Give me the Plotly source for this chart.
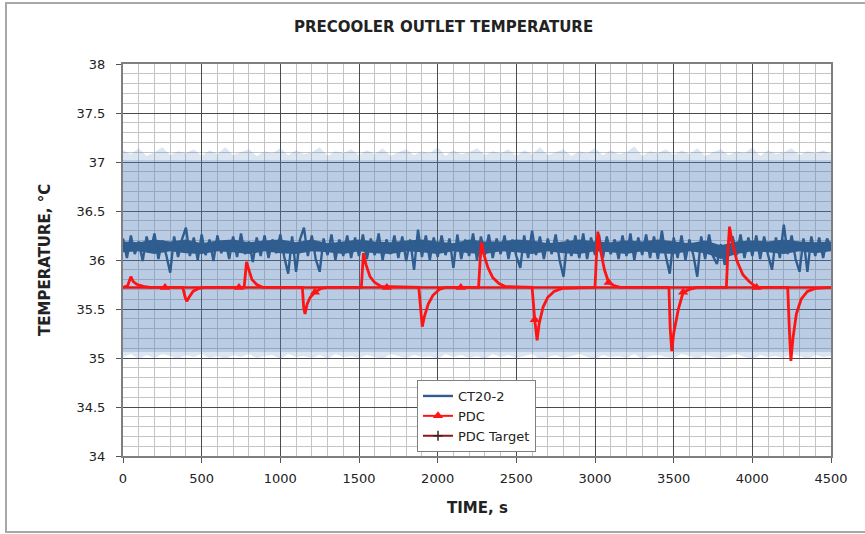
import plotly.graph_objects as go

# ---------------- data ----------------
# light-blue fast-oscillation envelope (every 50 s)
band_time = list(range(0, 4501, 50))
band_upper = [37.12,37.08,37.14,37.06,37.10,37.15,37.07,37.11,37.09,37.13,37.06,37.12,37.08,37.15,37.07,37.10,37.13,37.06,37.11,37.09,
              37.14,37.07,37.12,37.08,37.10,37.15,37.06,37.11,37.09,37.13,37.07,37.12,37.08,37.14,37.06,37.10,37.13,37.07,37.11,37.09,
              37.15,37.06,37.12,37.08,37.10,37.14,37.07,37.11,37.09,37.13,37.06,37.12,37.08,37.15,37.07,37.10,37.13,37.06,37.11,37.09,
              37.14,37.07,37.12,37.08,37.10,37.16,37.06,37.11,37.09,37.13,37.07,37.12,37.08,37.14,37.06,37.10,37.13,37.07,37.11,37.09,
              37.15,37.06,37.12,37.08,37.10,37.14,37.07,37.11,37.09,37.12,37.08]
band_lower = [35.01,35.04,34.99,35.03,35.00,35.04,35.02,34.99,35.03,35.01,35.04,35.00,35.02,34.99,35.03,35.01,35.04,35.00,35.02,35.03,
              34.99,35.04,35.01,35.02,35.00,35.03,34.99,35.04,35.01,35.02,35.00,35.03,35.01,34.99,35.04,35.02,35.00,35.03,35.01,35.02,
              34.99,35.04,35.01,35.03,35.00,35.02,34.99,35.04,35.01,35.03,35.00,35.02,35.04,34.99,35.01,35.03,35.00,35.02,35.04,35.01,
              34.99,35.03,35.01,35.02,35.00,35.04,34.99,35.02,35.03,35.01,35.00,35.04,35.02,34.99,35.03,35.01,35.00,35.02,35.04,35.01,
              34.99,35.03,35.01,35.02,35.00,35.04,35.02,34.99,35.03,35.01,35.02]
band_core_low = 35.06
band_core_high = 37.02

# CT20-2 dense core (every 100 s)
ct_core_time = list(range(0, 4501, 100))
ct_core_hi = [36.19,36.18,36.21,36.19,36.21,36.17,36.20,36.21,36.18,36.20, 36.21,36.18,36.21,36.17,36.19,36.21,36.19,36.18,36.20,36.21,
              36.19,36.17,36.21,36.19,36.19,36.21,36.20,36.17,36.19,36.21, 36.19,36.18,36.20,36.19,36.21,36.19,36.17,36.20,36.15,36.19,
              36.20,36.19,36.21,36.19,36.18,36.19]
ct_core_lo = [36.08,36.09,36.06,36.09,36.07,36.06,36.09,36.08,36.06,36.09, 36.07,36.06,36.09,36.08,36.06,36.09,36.07,36.06,36.09,36.08,
              36.06,36.09,36.07,36.06,36.09,36.08,36.06,36.09,36.07,36.06, 36.09,36.08,36.06,36.09,36.07,36.06,36.09,36.07,36.01,36.06,
              36.09,36.08,36.06,36.09,36.07,36.09]

# CT20-2 (every 25 s)
ct_time = list(range(0, 4501, 25))
ct_temp = [36.22,36.02,36.25,36.06,36.19,35.99,36.24,36.08,36.27,36.01,36.20,36.05,35.87,36.24,36.03,36.21,36.33,36.04,36.23,36.00,
           36.26,36.05,36.21,35.99,36.25,36.07,36.20,36.01,36.24,36.03,36.27,36.06,36.19,35.98,36.23,36.04,36.25,36.02,36.21,36.07,
           36.26,36.03,35.86,36.24,35.88,36.21,36.33,36.04,36.25,36.01,35.88,36.22,36.05,36.26,36.00,36.21,36.04,36.25,36.02,36.23,
           36.04,36.26,36.01,36.22,36.05,36.27,36.00,36.21,36.06,36.25,36.02,36.24,35.99,36.21,35.90,36.31,36.03,36.25,36.00,36.23,
           36.03,36.25,36.05,36.22,35.92,36.26,36.01,36.21,36.04,36.27,36.00,36.24,36.05,36.26,36.02,36.22,36.06,36.25,36.01,36.21,
           36.04,35.92,36.25,36.02,36.30,36.05,36.24,36.01,36.22,36.06,36.26,36.00,35.83,36.21,36.04,36.25,36.02,36.27,36.01,36.23,
           36.05,36.26,36.02,36.24,36.06,36.21,36.01,36.25,36.04,36.27,36.00,36.23,36.05,36.26,36.02,36.24,36.01,36.30,36.04,35.86,
           36.23,36.02,36.25,36.00,36.21,36.05,35.83,36.24,36.01,36.26,36.04,35.96,36.16,35.95,36.18,36.24,36.05,36.26,36.02,36.23,
           36.04,36.25,36.01,36.24,36.05,35.90,36.23,36.02,36.36,36.06,36.25,36.01,35.88,36.22,35.88,36.24,36.04,36.23,36.02,36.22,
           36.12]

# PDC
pdc_time = [0, 30, 50, 65, 90, 130, 170,
            380, 395, 405, 420, 445, 480, 520,
            770, 778, 785, 800, 820, 850, 890,
            1140, 1148, 1157, 1170, 1190, 1220, 1260, 1300,
            1515, 1522, 1528, 1545, 1570, 1600, 1640,
            1880, 1893, 1902, 1915, 1940, 1970, 2010, 2050,
            2260, 2270, 2278, 2295, 2320, 2350, 2390, 2430,
            2600, 2617, 2632, 2645, 2670, 2700, 2740, 2790,
            3000, 3008, 3018, 3035, 3060, 3087, 3120, 3160,
            3470, 3478, 3488, 3500, 3530, 3560, 3600, 3650,
            3835, 3845, 3855, 3870, 3900, 3940, 3980, 4027, 4060,
            4225, 4235, 4245, 4258, 4280, 4310, 4350, 4400, 4500]
pdc_temp = [35.72, 35.74, 35.83, 35.78, 35.75, 35.73, 35.72,
            35.72, 35.62, 35.58, 35.62, 35.68, 35.71, 35.72,
            35.72, 35.90, 35.98, 35.90, 35.80, 35.75, 35.72,
            35.72, 35.52, 35.45, 35.55, 35.62, 35.67, 35.71, 35.72,
            35.72, 35.95, 36.07, 35.95, 35.83, 35.77, 35.73,
            35.72, 35.45, 35.32, 35.42, 35.55, 35.64, 35.70, 35.72,
            35.72, 36.00, 36.18, 36.05, 35.92, 35.82, 35.76, 35.73,
            35.72, 35.39, 35.18, 35.35, 35.52, 35.62, 35.68, 35.71,
            35.72, 36.00, 36.29, 36.10, 35.90, 35.77, 35.74, 35.72,
            35.72, 35.30, 35.07, 35.25, 35.50, 35.67, 35.70, 35.72,
            35.72, 36.10, 36.34, 36.20, 36.00, 35.85, 35.78, 35.72, 35.72,
            35.72, 35.30, 34.97, 35.20, 35.45, 35.60, 35.68, 35.71, 35.72]
pdc_marker_time = [267, 737, 1220, 1677, 2147, 2617, 3087, 3560, 4027]
pdc_marker_temp = [35.72, 35.72, 35.67, 35.72, 35.72, 35.39, 35.77, 35.67, 35.72]

target_time = [0, 4500]
target_temp = [35.72, 35.72]

# ---------------- styling ----------------
L, R, T, B = 123, 831, 64, 456
W, H = 865, 534
def px(x):
    return (x - L) / (R - L)
def py(y):
    return (B - y) / (B - T)

FONT = "DejaVu Sans"
TXT = "#222222"
BLUE_FILL = "rgba(79,129,189,0.25)"
BLUE_FUZZ = "rgba(79,129,189,0.20)"
CT_COLOR = "#2f5d8f"
PDC_COLOR = "#ff1414"
TGT_COLOR = "#e81414"

fig = go.Figure()

# fuzzy outer band
fig.add_trace(go.Scatter(x=band_time, y=band_lower, mode="lines", line=dict(width=0),
                         showlegend=False, hoverinfo="skip"))
fig.add_trace(go.Scatter(x=band_time, y=band_upper, mode="lines", line=dict(width=0),
                         fill="tonexty", fillcolor=BLUE_FUZZ, showlegend=False, hoverinfo="skip"))
# core band
fig.add_trace(go.Scatter(x=[band_time[0], band_time[-1]], y=[band_core_low, band_core_low], mode="lines",
                         line=dict(width=0), showlegend=False, hoverinfo="skip"))
fig.add_trace(go.Scatter(x=[band_time[0], band_time[-1]], y=[band_core_high, band_core_high], mode="lines",
                         line=dict(width=0), fill="tonexty", fillcolor=BLUE_FILL,
                         showlegend=False, hoverinfo="skip"))

# CT20-2 dense core
fig.add_trace(go.Scatter(x=ct_core_time, y=ct_core_lo, mode="lines", line=dict(width=0, color=CT_COLOR),
                         showlegend=False, hoverinfo="skip"))
fig.add_trace(go.Scatter(x=ct_core_time, y=ct_core_hi, mode="lines", line=dict(width=0, color=CT_COLOR),
                         fill="tonexty", fillcolor=CT_COLOR, showlegend=False, hoverinfo="skip"))
# CT20-2
fig.add_trace(go.Scatter(x=ct_time, y=ct_temp, mode="lines", name="CT20-2",
                         line=dict(color=CT_COLOR, width=2.4)))

# PDC Target
fig.add_trace(go.Scatter(x=target_time, y=target_temp, mode="lines", name="PDC Target",
                         line=dict(color=TGT_COLOR, width=2.5), showlegend=False))

# PDC
fig.add_trace(go.Scatter(x=pdc_time, y=pdc_temp, mode="lines", name="PDC",
                         line=dict(color=PDC_COLOR, width=2.8), showlegend=False))
fig.add_trace(go.Scatter(x=pdc_marker_time, y=pdc_marker_temp, mode="markers", name="PDC",
                         marker=dict(symbol="triangle-up", size=9, color=PDC_COLOR),
                         showlegend=False))
# legend entries
fig.add_trace(go.Scatter(x=[None], y=[None], mode="lines+markers", name="PDC",
                         line=dict(color=PDC_COLOR, width=2),
                         marker=dict(symbol="triangle-up", size=9, color=PDC_COLOR)))
fig.add_trace(go.Scatter(x=[None], y=[None], mode="lines+markers", name="PDC Target",
                         line=dict(color="#8a1a1a", width=2),
                         marker=dict(symbol="cross-thin", size=7, line=dict(color="#402020", width=1.5))))

axis_common = dict(showline=True, linecolor="#7f7f7f", linewidth=2, mirror=True,
                   ticks="outside", ticklen=5, tickcolor="#555555",
                   gridcolor="#4a4a4a", gridwidth=1, zeroline=False,
                   tickfont=dict(family=FONT, size=13, color=TXT))

fig.update_xaxes(range=[0, 4500], dtick=500, tick0=0, ticklabelstandoff=4,
                 minor=dict(dtick=100, showgrid=True, gridcolor="#c4c4c4", gridwidth=1, ticks=""),
                 **axis_common)
fig.update_yaxes(range=[34, 38], dtick=0.5, tick0=34, ticklabelstandoff=8,
                 minor=dict(dtick=0.1, showgrid=True, gridcolor="#c4c4c4", gridwidth=1, ticks=""),
                 **axis_common)

fig.update_layout(
    width=W, height=H,
    margin=dict(l=L, r=W - R, t=T, b=H - B),
    paper_bgcolor="white", plot_bgcolor="white",
    showlegend=True,
    legend=dict(x=px(417), y=py(380), xanchor="left", yanchor="top",
                traceorder="normal",
                bgcolor="white", bordercolor="#808080", borderwidth=1,
                font=dict(family=FONT, size=13, color=TXT),
                tracegroupgap=0, itemwidth=30),
    annotations=[
        dict(text="<b>PRECOOLER OUTLET TEMPERATURE</b>", x=px(443), y=py(27), xref="paper", yref="paper",
             xanchor="center", yanchor="middle",
             showarrow=False, font=dict(family=FONT, size=15, color=TXT)),
        dict(text="<b>TEMPERATURE, °C</b>", x=px(45), y=py(260), xref="paper", yref="paper",
             xanchor="center", yanchor="middle",
             showarrow=False, textangle=-90, font=dict(family=FONT, size=15, color=TXT)),
        dict(text="<b>TIME, s</b>", x=px(477), y=py(508), xref="paper", yref="paper",
             xanchor="center", yanchor="middle",
             showarrow=False, font=dict(family=FONT, size=15, color=TXT)),
    ],
    shapes=[
        dict(type="rect", xref="paper", yref="paper", x0=px(6), x1=px(872), y0=py(532), y1=py(3),
             line=dict(color="#a8a8a8", width=2), layer="below"),
    ],
)

fig.write_html("out.html", config={"displayModeBar": False},
               post_script="document.body.style.margin='0px';")
